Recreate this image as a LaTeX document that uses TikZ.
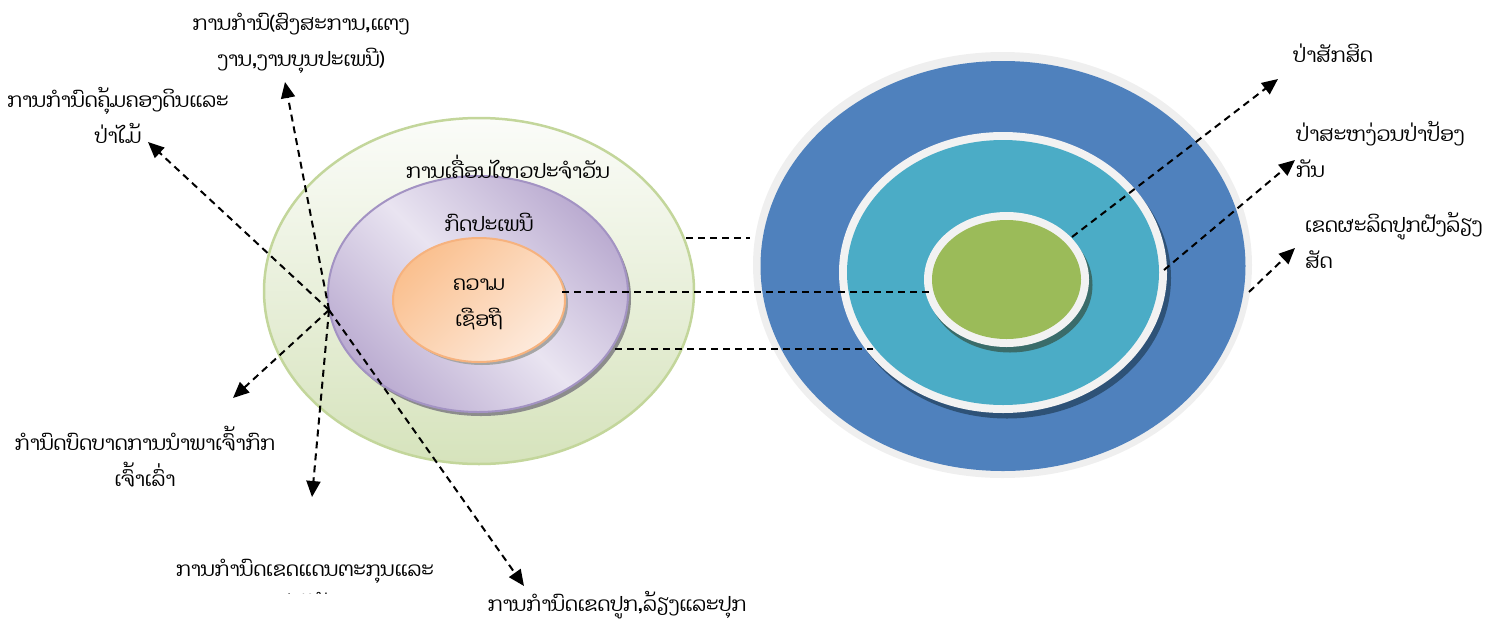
\documentclass[tikz,border=0pt]{standalone}
\usepackage{fontspec}
\newfontfamily\laofont[Script=Lao]{Dhyana}
\usetikzlibrary{arrows.meta,shapes.geometric}
\definecolor{bigborder}{HTML}{C3D69B}
\definecolor{bigtop}{HTML}{FBFCF9}
\definecolor{bigbot}{HTML}{D6E3BC}
\definecolor{purborder}{HTML}{A393C3}
\definecolor{purdark}{HTML}{BBACD1}
\definecolor{purlight}{HTML}{E9E4F1}
\definecolor{orborder}{HTML}{F6B27E}
\definecolor{ordark}{HTML}{FAC08F}
\definecolor{orlight}{HTML}{FDEADC}
\definecolor{ringgray}{HTML}{F2F2F2}
\definecolor{outgray}{HTML}{EFEFEF}
\definecolor{rblue}{HTML}{4F81BD}
\definecolor{rcyan}{HTML}{4BACC6}
\definecolor{rgreen}{HTML}{9BBB59}
\definecolor{shblue}{HTML}{2E5277}
\definecolor{shteal}{HTML}{3A6C6A}
\tikzset{
  lbl/.style={font=\laofont\fontsize{20}{36}\selectfont, inner sep=0pt, align=center},
  lbll/.style={font=\laofont\fontsize{20}{36}\selectfont, inner sep=0pt, align=left, anchor=west},
  ell/.style={ellipse, inner sep=0pt},
  dline/.style={line width=2pt, dash pattern=on 7pt off 5pt},
  arr/.style={dline, -{Triangle[length=16pt,width=14pt]}}
}
\begin{document}
\begin{tikzpicture}[x=1pt,y=-1pt]
\useasboundingbox (0,0) rectangle (1492,622);
\clip (0,0) rectangle (1492,622);

% ---------- left ellipses ----------
\node[ell, draw=bigborder, line width=2.5pt, top color=bigtop, bottom color=bigbot,
      minimum width=430pt, minimum height=346pt] (big) at (479,291) {};
\fill[gray!90] (481,298) ellipse [x radius=150pt, y radius=118pt];
\node[ell, draw=purborder, line width=2pt, top color=purdark, bottom color=purdark, middle color=purlight,
      shading angle=-45, minimum width=300pt, minimum height=236pt] (pur) at (478,294) {};
\fill[gray!70] (482,303) ellipse [x radius=86pt, y radius=62pt];
\node[ell, draw=orborder, line width=2pt, top color=ordark, bottom color=orlight,
      shading angle=45, minimum width=172pt, minimum height=124pt] (ora) at (479,300) {};

% ---------- right rings ----------
\node[ell, fill=outgray, minimum width=499pt, minimum height=426pt] (outer) at (1002.5,265) {};
\node[ell, fill=rblue, minimum width=485pt, minimum height=410pt] (blue) at (1003,266) {};
\fill[shblue] (1007,278) ellipse [x radius=164pt, y radius=140.5pt];
\node[ell, fill=ringgray, minimum width=328pt, minimum height=281pt] (midring) at (1003,272.5) {};
\node[ell, fill=rcyan, minimum width=312pt, minimum height=265pt] (cyan) at (1003,272.5) {};
\fill[shteal] (1010,285) ellipse [x radius=82.5pt, y radius=67.5pt];
\node[ell, fill=ringgray, minimum width=165pt, minimum height=135pt] (inring) at (1006.5,279.5) {};
\node[ell, fill=rgreen, minimum width=149pt, minimum height=119pt] (green) at (1006.5,279.5) {};

% ---------- centre labels ----------
\node[lbl] (daily) at (508,167) {ການເຄື່ອນໄຫວປະຈຳວັນ};
\node[lbl] (custom) at (489,222) {ກົດປະເພນີ};
\node[lbl] (belief) at (479,304.5) {ຄວາມ\\ເຊືອຖື};

% ---------- outer labels ----------
\node[lbl] (lab1) at (301,43.5) {ການກຳນົ(ສົງສະການ,ແຕງ\\ງານ,ງານບຸນປະເພນີ)};
\node[lbl] (lab2) at (118,115) {ການກຳນົດຄຸ້ມຄອງດິນແລະ\\ປ່າໄມ້};
\node[lbl] (lab3) at (145,457) {ກຳນົດບົດບາດການນຳພາເຈົ້າກົກ\\ເຈົ້າເລົ່າ};
\begin{scope}
\clip (0,0) rectangle (1492,593);
\node[lbl] (lab4) at (305,585.5) {ການກຳນົດເຂດແດນຕະກຸນແລະ\\ປ່າໄມ້};
\end{scope}
\node[lbl] (lab5) at (617,605) {ການກຳນົດເຂດປູກ,ລ້ຽງແລະປຸກ};
\node[lbll] (lab6) at (1293,53) {ປ່າສັກສິດ};
\node[lbll] (lab7) at (1296,149.5) {ປ່າສະຫງ່ວນປ່າປ້ອງ\\ກັນ};
\node[lbll] (lab8) at (1305,240) {ເຂດຜະລິດປູກຝັງລ້ຽງ\\ສັດ};

% ---------- connector coordinates ----------
\coordinate (hub) at (329,310);
\coordinate (tA) at (148,142);
\coordinate (tB) at (285,82);
\coordinate (tC) at (233,398);
\coordinate (tD) at (312,497);
\coordinate (tE) at (524,586);
\coordinate (h1a) at (686,238); \coordinate (h1b) at (750,238);
\coordinate (h2a) at (562,292); \coordinate (h2b) at (932,292);
\coordinate (h3a) at (615,349); \coordinate (h3b) at (873,349);
\coordinate (r1a) at (1072,237); \coordinate (r1b) at (1278,79);
\coordinate (r2a) at (1164,270); \coordinate (r2b) at (1295,160);
\coordinate (r3a) at (1249,292); \coordinate (r3b) at (1295,248);

% ---------- connectors ----------
\draw[dline] (h1a) -- (h1b);
\draw[dline] (h2a) -- (h2b);
\draw[dline] (h3a) -- (h3b);
\draw[arr] (hub) -- (tA);
\draw[arr] (hub) -- (tB);
\draw[arr] (hub) -- (tC);
\draw[arr] (hub) -- (tD);
\draw[arr] (hub) -- (tE);
\draw[arr] (r1a) -- (r1b);
\draw[arr] (r2a) -- (r2b);
\draw[arr] (r3a) -- (r3b);
\end{tikzpicture}
\end{document}
